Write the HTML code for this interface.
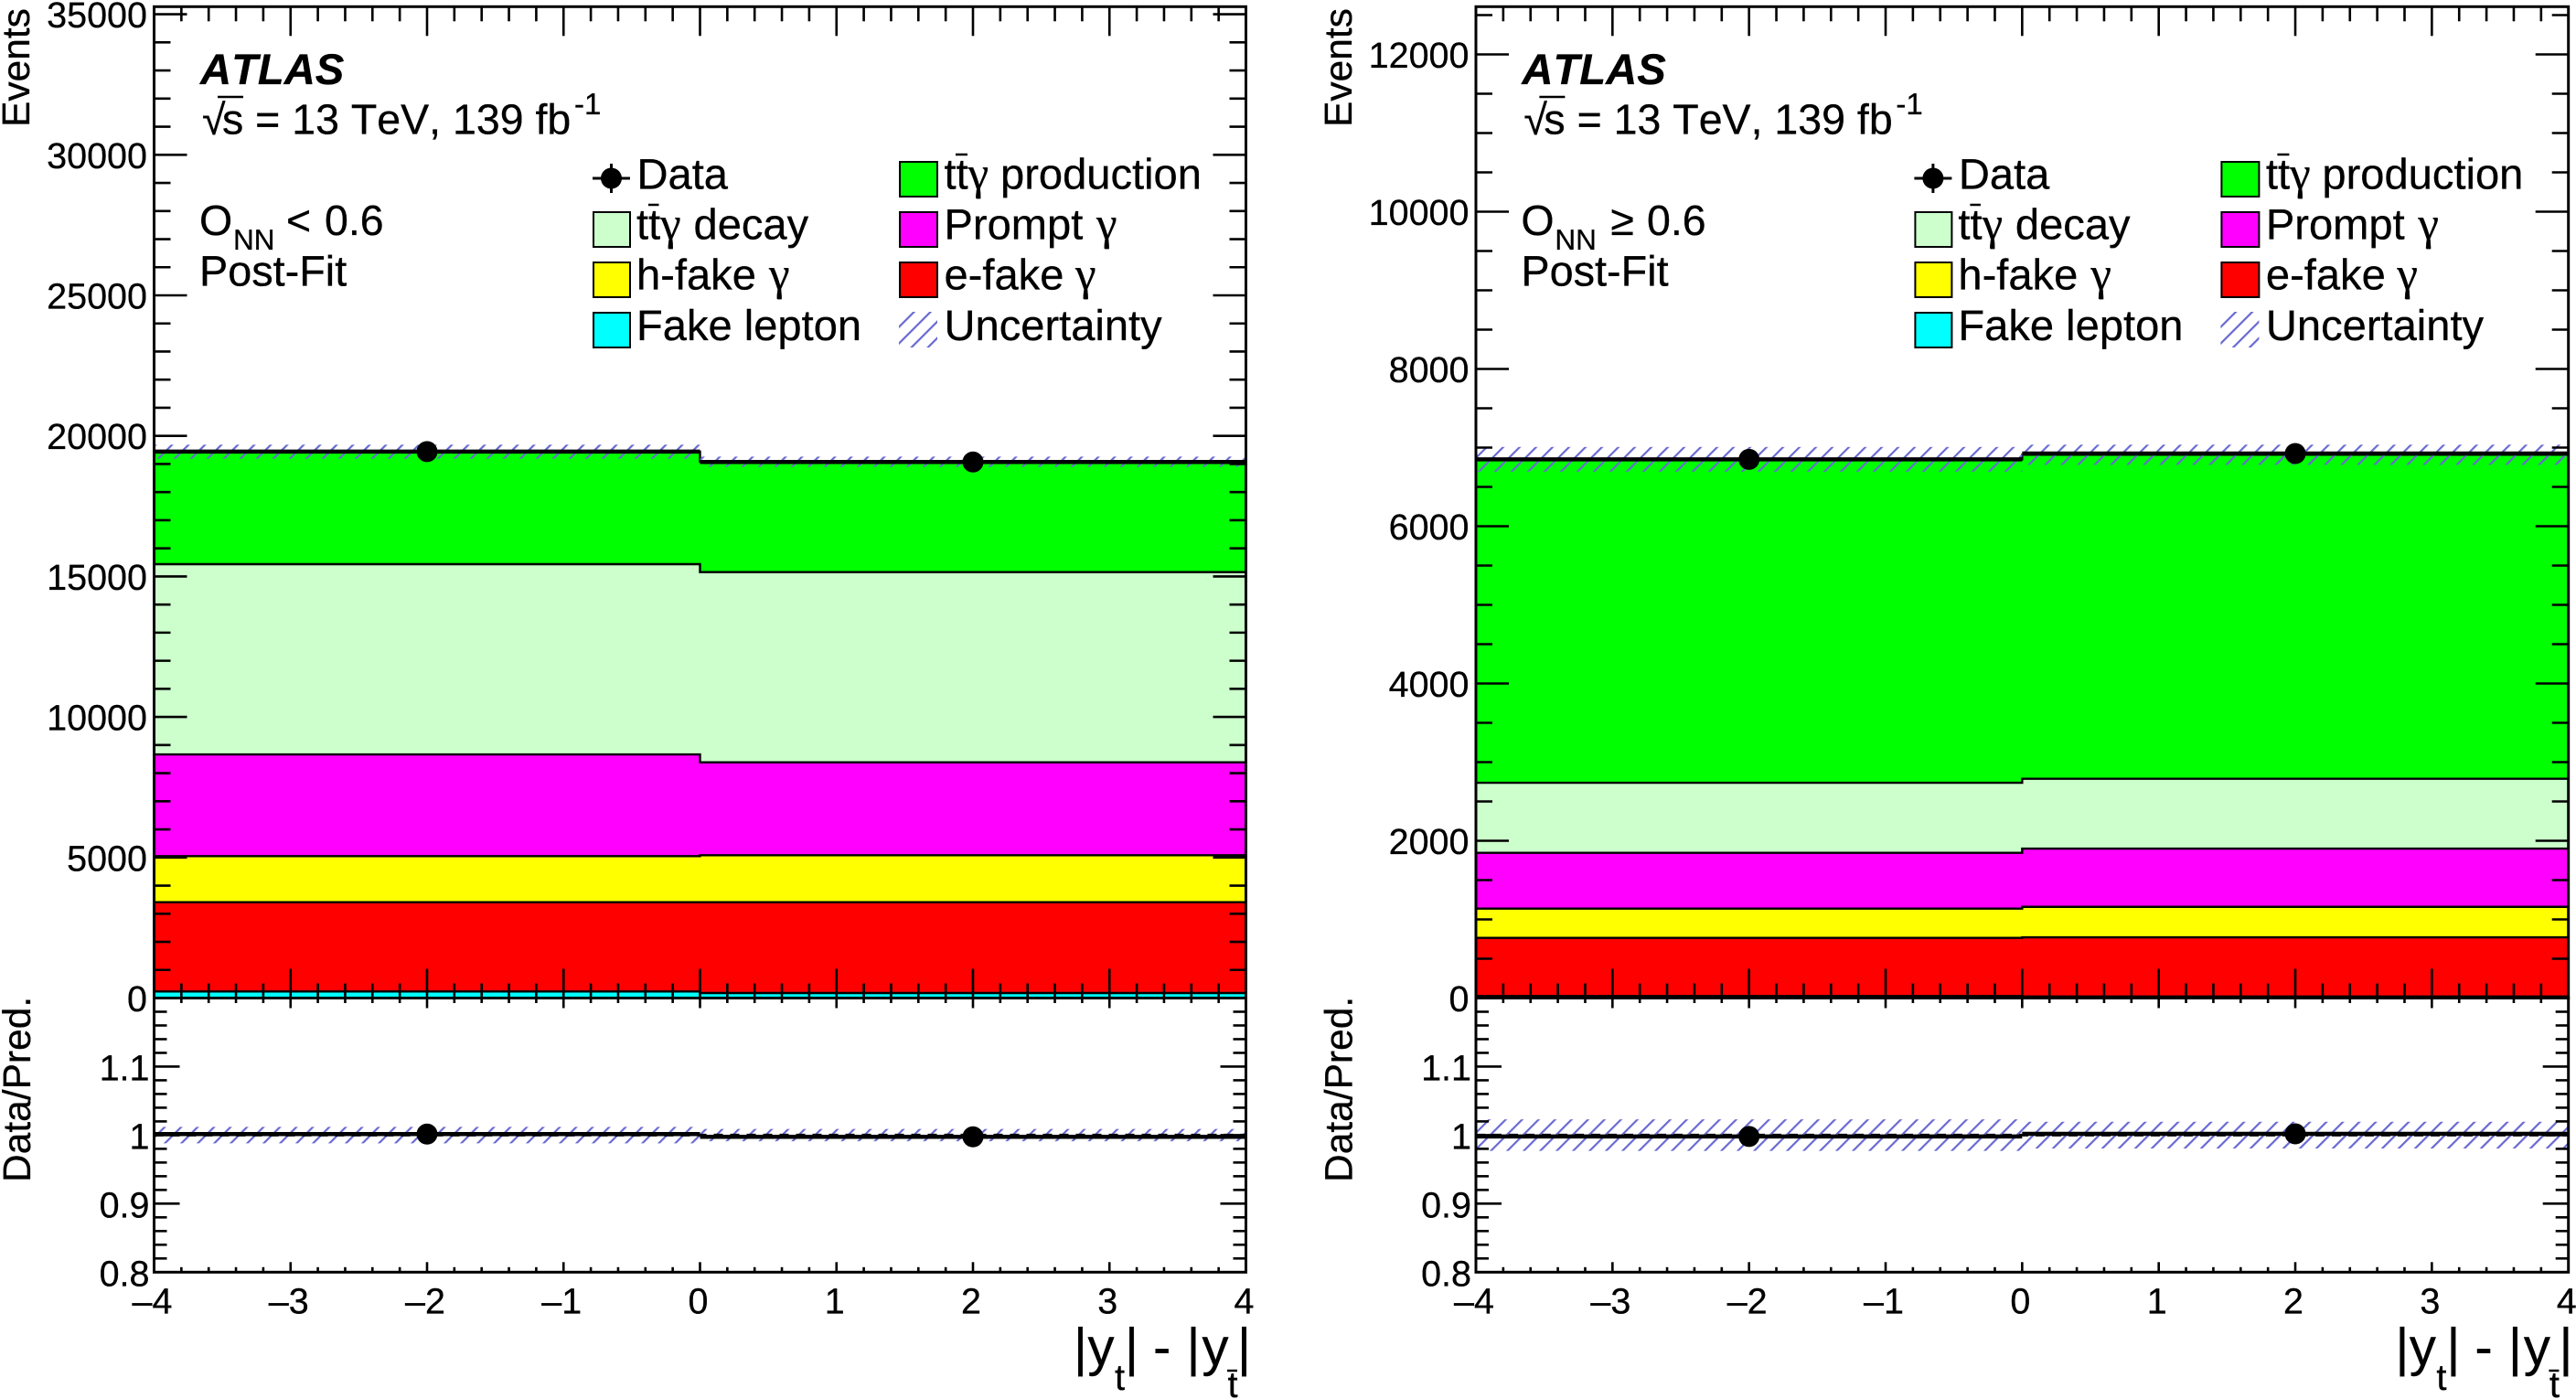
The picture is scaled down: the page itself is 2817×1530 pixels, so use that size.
<!DOCTYPE html>
<html lang="en">
<head>
<meta charset="utf-8">
<title>ATLAS post-fit |y_t| - |y_tbar| distributions</title>
<style>
html,body{margin:0;padding:0;background:#fff;}
svg{display:block;font-family:"Liberation Sans",sans-serif;fill:#000;font-kerning:none;text-rendering:geometricPrecision;}
text{stroke:#000;stroke-width:.3px;}
.g{font-family:"Liberation Serif",serif;font-size:51px;}
</style>
</head>
<body>
<svg id="chart" xmlns="http://www.w3.org/2000/svg" width="2817" height="1530" viewBox="0 0 2817 1530">
<defs>
<pattern id="hatch" patternUnits="userSpaceOnUse" width="12.73" height="12.73" patternTransform="rotate(45)">
<line x1="6" y1="0" x2="6" y2="12.73" stroke="#6a6ad2" stroke-width="2.2"/>
</pattern>
</defs>
<rect width="2817" height="1530" fill="#fff"/>
<g id="marks-left"></g>
<g id="marks-right"></g>

<!-- Left panel annotations -->
<g>
<text transform="translate(32,139) rotate(-90)" font-size="42.5">Events</text>
<text transform="translate(33,1293) rotate(-90)" font-size="42.5">Data/Pred.</text>
<text x="219" y="92" font-size="47.2" font-weight="bold" font-style="italic">ATLAS</text>
<text x="221" y="147" font-size="46.5">√</text>
<line x1="238" y1="106" x2="266" y2="106" stroke="#000" stroke-width="2.5"/>
<text x="243" y="146.7" font-size="46.5">s = 13 TeV, 139 fb</text>
<text x="628" y="125" font-size="33">-1</text>
<text x="218" y="257" font-size="46.5">O</text>
<text x="255" y="273" font-size="31.5">NN</text>
<text x="313" y="257" font-size="46.5">&lt;</text>
<text x="355" y="257" font-size="46.5">0.6</text>
<text x="218" y="312.7" font-size="46.8">Post-Fit</text>
<g font-size="58">
<text x="1174" y="1493">|</text><text x="1189.5" y="1493">y</text>
<text x="1219" y="1520" font-size="40">t</text>
<text x="1230" y="1493">|</text><text x="1261" y="1493">-</text>
<text x="1297.5" y="1493">|</text><text x="1314.5" y="1493">y</text>
<text x="1342.5" y="1528" font-size="40">t</text>
<line x1="1342" y1="1499" x2="1353" y2="1499" stroke="#000" stroke-width="2.5"/>
<text x="1353" y="1493">|</text>
</g>
<g font-size="47.1">
<g>
<line x1="648" y1="195" x2="689" y2="195" stroke="#000" stroke-width="3"/><line x1="668.5" y1="179" x2="668.5" y2="211" stroke="#000" stroke-width="3"/><circle cx="668.5" cy="195" r="11.5"/>
<text x="696.5" y="206.5">Data</text></g>
<g>
<rect x="649" y="232" width="40" height="38" fill="#ccffcc" stroke="#000" stroke-width="2"/>
<text x="696" y="261.5">tt<tspan class="g">γ</tspan></text><line x1="709" y1="224" x2="720.5" y2="224" stroke="#000" stroke-width="2.5"/><text x="758.5" y="261.5">decay</text></g>
<g>
<rect x="649" y="287" width="40" height="38" fill="#ffff00" stroke="#000" stroke-width="2"/>
<text x="696" y="316.5">h-fake</text><text class="g" x="841" y="316.5">γ</text></g>
<g>
<rect x="649" y="342" width="40" height="38" fill="#00ffff" stroke="#000" stroke-width="2"/>
<text x="696" y="372">Fake lepton</text></g>
<g>
<rect x="984" y="177" width="41" height="38" fill="#00ff00" stroke="#000" stroke-width="2"/>
<text x="1032.5" y="206.5">tt<tspan class="g">γ</tspan></text><line x1="1045" y1="169" x2="1058" y2="169" stroke="#000" stroke-width="2.5"/><text x="1094" y="206.5">production</text></g>
<g>
<rect x="984" y="232" width="41" height="38" fill="#ff00ff" stroke="#000" stroke-width="2"/>
<text x="1032.5" y="261.5">Prompt</text><text class="g" x="1199" y="261.5">γ</text></g>
<g>
<rect x="984" y="287" width="41" height="38" fill="#ff0000" stroke="#000" stroke-width="2"/>
<text x="1032.5" y="316.5">e-fake</text><text class="g" x="1176" y="316.5">γ</text></g>
<g>
<rect x="983" y="341" width="42" height="39" fill="url(#hatch)"/>
<text x="1032.5" y="372">Uncertainty</text></g>
</g>
</g>

<!-- Right panel annotations -->
<g transform="translate(1445.4,0)">
<text transform="translate(32.6,139) rotate(-90)" font-size="42.5">Events</text>
<text transform="translate(33,1293) rotate(-90)" font-size="42.5">Data/Pred.</text>
<text x="219" y="92" font-size="47.2" font-weight="bold" font-style="italic">ATLAS</text>
<text x="221" y="147" font-size="46.5">√</text>
<line x1="238" y1="106" x2="266" y2="106" stroke="#000" stroke-width="2.5"/>
<text x="243" y="146.7" font-size="46.5">s = 13 TeV, 139 fb</text>
<text x="628" y="125" font-size="33">-1</text>
<text x="218" y="257" font-size="46.5">O</text>
<text x="255" y="273" font-size="31.5">NN</text>
<text x="316" y="257" font-size="46.5">≥</text>
<text x="355.6" y="257" font-size="46.5">0.6</text>
<text x="218" y="312.7" font-size="46.8">Post-Fit</text>
<g font-size="58">
<text x="1174" y="1493">|</text><text x="1189.5" y="1493">y</text>
<text x="1219" y="1520" font-size="40">t</text>
<text x="1230" y="1493">|</text><text x="1261" y="1493">-</text>
<text x="1297.5" y="1493">|</text><text x="1314.5" y="1493">y</text>
<text x="1342.5" y="1528" font-size="40">t</text>
<line x1="1342" y1="1499" x2="1353" y2="1499" stroke="#000" stroke-width="2.5"/>
<text x="1353" y="1493">|</text>
</g>
<g font-size="47.1">
<g>
<line x1="648" y1="195" x2="689" y2="195" stroke="#000" stroke-width="3"/><line x1="668.5" y1="179" x2="668.5" y2="211" stroke="#000" stroke-width="3"/><circle cx="668.5" cy="195" r="11.5"/>
<text x="696.5" y="206.5">Data</text></g>
<g>
<rect x="649" y="232" width="40" height="38" fill="#ccffcc" stroke="#000" stroke-width="2"/>
<text x="696" y="261.5">tt<tspan class="g">γ</tspan></text><line x1="709" y1="224" x2="720.5" y2="224" stroke="#000" stroke-width="2.5"/><text x="758.5" y="261.5">decay</text></g>
<g>
<rect x="649" y="287" width="40" height="38" fill="#ffff00" stroke="#000" stroke-width="2"/>
<text x="696" y="316.5">h-fake</text><text class="g" x="841" y="316.5">γ</text></g>
<g>
<rect x="649" y="342" width="40" height="38" fill="#00ffff" stroke="#000" stroke-width="2"/>
<text x="696" y="372">Fake lepton</text></g>
<g>
<rect x="984" y="177" width="41" height="38" fill="#00ff00" stroke="#000" stroke-width="2"/>
<text x="1032.5" y="206.5">tt<tspan class="g">γ</tspan></text><line x1="1045" y1="169" x2="1058" y2="169" stroke="#000" stroke-width="2.5"/><text x="1094" y="206.5">production</text></g>
<g>
<rect x="984" y="232" width="41" height="38" fill="#ff00ff" stroke="#000" stroke-width="2"/>
<text x="1032.5" y="261.5">Prompt</text><text class="g" x="1199" y="261.5">γ</text></g>
<g>
<rect x="984" y="287" width="41" height="38" fill="#ff0000" stroke="#000" stroke-width="2"/>
<text x="1032.5" y="316.5">e-fake</text><text class="g" x="1176" y="316.5">γ</text></g>
<g>
<rect x="983" y="341" width="42" height="39" fill="url(#hatch)"/>
<text x="1032.5" y="372">Uncertainty</text></g>
</g>
</g>
</svg>

<script>
/* ---------- data ---------- */
const binEdges = [-4, 0, 4];
const binCenters = [-2, 2];
const xTickLabels = ["–4", "–3", "–2", "–1", "0", "1", "2", "3", "4"];
const xTickValues = [-4, -3, -2, -1, 0, 1, 2, 3, 4];
const ratioTickLabels = ["0.8", "0.9", "1", "1.1"];
const ratioTickValues = [0.8, 0.9, 1, 1.1];

/* O_NN < 0.6 */
const leftFakeLepton = [234, 179];
const leftEFake = [3176, 3231];
const leftHFake = [1639, 1671];
const leftPrompt = [3620, 3305];
const leftDecay = [6767, 6767];
const leftProduction = [4001, 3927];
const leftData = [19440, 19070];
const leftUncertainty = [250, 183];
const leftRatio = [1.0015, 0.9975];
const leftRatioUncertainty = [0.012, 0.009];
const leftYTicks = [0, 5000, 10000, 15000, 20000, 25000, 30000, 35000];

/* O_NN >= 0.6 */
const rightFakeLepton = [25, 20];
const rightEFake = [740, 753];
const rightHFake = [372, 387];
const rightPrompt = [710, 741];
const rightDecay = [891, 887];
const rightProduction = [4113, 4121];
const rightData = [6850, 6925];
const rightUncertainty = [157, 128];
const rightRatio = [0.998, 1.0018];
const rightRatioUncertainty = [0.023, 0.0195];
const rightYTicks = [0, 2000, 4000, 6000, 8000, 10000, 12000];

/* ---------- layout ---------- */
const NS = 'http://www.w3.org/2000/svg';
const plotTop = 7.3, plotBottom = 1091.5, ratioBottom = 1391.3;

function mk(parent, tag, name, attrs) {
  const el = document.createElementNS(NS, tag);
  
  
  for (const k in attrs) el.setAttribute(k, attrs[k]);
  parent.appendChild(el);
  return el;
}

function drawPanel(p) {
  const g = document.getElementById(p.id);
  const xScale = v => p.left + (v - binEdges[0]) * (p.right - p.left) / (binEdges[2] - binEdges[0]);
  const yScale = v => plotBottom - (v / p.yMax) * (plotBottom - plotTop);
  const rScale = v => ratioBottom - (v - 0.8) / 0.4 * (ratioBottom - plotBottom);

  /* cumulative stacks */
  let running = [0, 0];
  const tops = p.stack.map(s => {
    running = [running[0] + s.values[0], running[1] + s.values[1]];
    return { name: s.name, color: s.color, top: running.slice() };
  });
  const total = running;

  const stepPath = t => 'M' + xScale(binEdges[0]) + ' ' + yScale(t[0]) + 'H' + xScale(binEdges[1]) + 'V' + yScale(t[1]) + 'H' + xScale(binEdges[2]);

  /* fills, top of stack first */
  for (let i = tops.length - 1; i >= 0; i--) {
    mk(g, 'path', 'stack-' + tops[i].name, {
      d: stepPath(tops[i].top) + 'V' + plotBottom + 'H' + xScale(binEdges[0]) + 'Z',
      fill: tops[i].color
    });
  }
  tops.forEach(t => {
    mk(g, 'path', 'stack-edge-' + t.name, { d: stepPath(t.top), fill: 'none', stroke: '#000', 'stroke-width': 2.4 });
  });

  /* uncertainty bands */
  binCenters.forEach((c, i) => {
    mk(g, 'rect', 'uncertainty-band-bin-' + (i + 1), {
      x: xScale(binEdges[i]), width: xScale(binEdges[i + 1]) - xScale(binEdges[i]),
      y: yScale(total[i] + p.unc[i]), height: yScale(total[i] - p.unc[i]) - yScale(total[i] + p.unc[i]),
      fill: 'url(#hatch)'
    });
    mk(g, 'rect', 'ratio-uncertainty-band-bin-' + (i + 1), {
      x: xScale(binEdges[i]), width: xScale(binEdges[i + 1]) - xScale(binEdges[i]),
      y: rScale(1 + p.ratioUnc[i]), height: rScale(1 - p.ratioUnc[i]) - rScale(1 + p.ratioUnc[i]),
      fill: 'url(#hatch)'
    });
  });

  /* reference line in ratio panel */
  mk(g, 'line', 'ratio-unity-line', {
    x1: xScale(binEdges[0]), x2: xScale(binEdges[2]), y1: rScale(1), y2: rScale(1),
    stroke: '#000', 'stroke-width': 3, 'stroke-dasharray': '10 8'
  });

  /* data points */
  binCenters.forEach((c, i) => {
    mk(g, 'line', 'data-xerror-bin-' + (i + 1), {
      x1: xScale(binEdges[i]), x2: xScale(binEdges[i + 1]), y1: yScale(p.data[i]), y2: yScale(p.data[i]),
      stroke: '#000', 'stroke-width': 4.5
    });
    mk(g, 'circle', 'data-point-bin-' + (i + 1), { cx: xScale(c), cy: yScale(p.data[i]), r: 11.5 });
    mk(g, 'line', 'ratio-xerror-bin-' + (i + 1), {
      x1: xScale(binEdges[i]), x2: xScale(binEdges[i + 1]), y1: rScale(p.ratio[i]), y2: rScale(p.ratio[i]),
      stroke: '#000', 'stroke-width': 4.5
    });
    mk(g, 'circle', 'ratio-point-bin-' + (i + 1), { cx: xScale(c), cy: rScale(p.ratio[i]), r: 11.5 });
  });

  const tick = (name, x1, y1, x2, y2) => mk(g, 'line', name, { x1, y1, x2, y2, stroke: '#000', 'stroke-width': 2.6 });

  /* x ticks: upper panel and ratio panel, top and bottom */
  for (let k = 0; k <= 40; k++) {
    const v = -4 + k * 0.2, x = xScale(v), major = k % 5 === 0;
    if (k === 0 || k === 40) continue;
    const main = major ? 32 : 16, rat = major ? 11 : 5.5;
    tick('x-tick-top', x, plotTop, x, plotTop + main);
    tick('x-tick-main-bottom', x, plotBottom, x, plotBottom - main);
    tick('x-tick-ratio-top', x, plotBottom, x, plotBottom + rat);
    tick('x-tick-ratio-bottom', x, ratioBottom, x, ratioBottom - rat);
  }

  /* y ticks main */
  for (let v = 0; v <= p.yMax; v += p.minorStep) {
    const major = p.yTicks.includes(v), y = yScale(v), len = major ? 36 : 18;
    tick('y-tick-left', p.left, y, p.left + len, y);
    tick('y-tick-right', p.right, y, p.right - len, y);
  }
  p.yTicks.forEach(v => {
    const t = mk(g, 'text', 'y-tick-label', { x: p.left - 7.5, y: yScale(v) + 14.5, 'font-size': 39.5, 'text-anchor': 'end' });
    t.textContent = String(v);
  });

  /* y ticks ratio */
  for (let k = 1; k < 20; k++) {
    const v = 0.8 + k * 0.02, y = rScale(v), major = k % 5 === 0, len = major ? 28 : 14;
    tick('ratio-tick-left', p.left, y, p.left + len, y);
    tick('ratio-tick-right', p.right, y, p.right - len, y);
  }
  ratioTickValues.forEach((v, i) => {
    const t = mk(g, 'text', 'ratio-tick-label', { x: p.left - 5, y: rScale(v) + 15, 'font-size': 39.5, 'text-anchor': 'end' });
    t.textContent = ratioTickLabels[i];
  });

  /* x tick labels */
  xTickValues.forEach((v, i) => {
    const t = mk(g, 'text', 'x-tick-label', { x: xScale(v) - 2, y: 1436.5, 'font-size': 39.5, 'text-anchor': 'middle' });
    t.textContent = xTickLabels[i];
  });

  /* frames */
  mk(g, 'rect', 'main-plot-frame', { x: p.left, y: plotTop, width: p.right - p.left, height: plotBottom - plotTop, fill: 'none', stroke: '#000', 'stroke-width': 3 });
  mk(g, 'rect', 'ratio-plot-frame', { x: p.left, y: plotBottom, width: p.right - p.left, height: ratioBottom - plotBottom, fill: 'none', stroke: '#000', 'stroke-width': 3 });
}

drawPanel({
  id: 'marks-left', left: 168.5, right: 1362.5, yMax: 35270, minorStep: 1000, yTicks: leftYTicks,
  stack: [
    { name: 'fake-lepton', color: '#00ffff', values: leftFakeLepton },
    { name: 'e-fake', color: '#ff0000', values: leftEFake },
    { name: 'h-fake', color: '#ffff00', values: leftHFake },
    { name: 'prompt', color: '#ff00ff', values: leftPrompt },
    { name: 'ttgamma-decay', color: '#ccffcc', values: leftDecay },
    { name: 'ttgamma-production', color: '#00ff00', values: leftProduction }
  ],
  data: leftData, unc: leftUncertainty, ratio: leftRatio, ratioUnc: leftRatioUncertainty
});
drawPanel({
  id: 'marks-right', left: 1614, right: 2808.7, yMax: 12607, minorStep: 500, yTicks: rightYTicks,
  stack: [
    { name: 'fake-lepton', color: '#00ffff', values: rightFakeLepton },
    { name: 'e-fake', color: '#ff0000', values: rightEFake },
    { name: 'h-fake', color: '#ffff00', values: rightHFake },
    { name: 'prompt', color: '#ff00ff', values: rightPrompt },
    { name: 'ttgamma-decay', color: '#ccffcc', values: rightDecay },
    { name: 'ttgamma-production', color: '#00ff00', values: rightProduction }
  ],
  data: rightData, unc: rightUncertainty, ratio: rightRatio, ratioUnc: rightRatioUncertainty
});
</script>
</body>
</html>
